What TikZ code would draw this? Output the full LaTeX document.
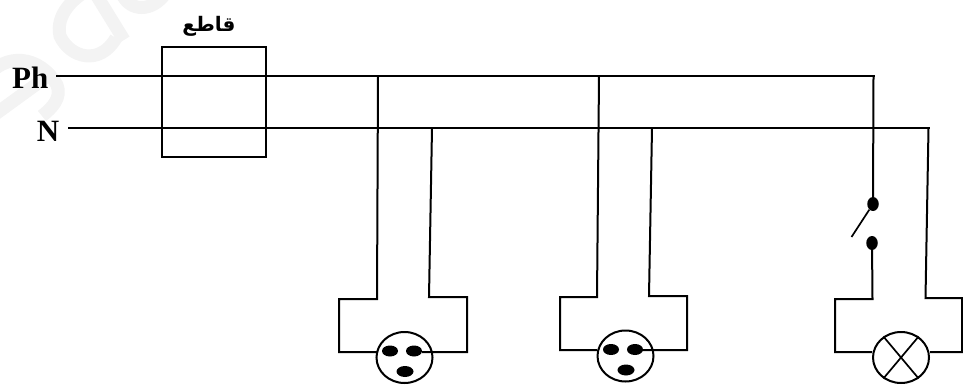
\documentclass[tikz,border=0pt]{standalone}
\usepackage{fontspec}
\setmainfont{Liberation Serif}
\newfontfamily\arabicfont[Script=Arabic]{DejaVu Sans}
\TeXXeTstate=1
\usetikzlibrary{shapes.geometric}
\definecolor{mark}{HTML}{F3F3F3}
\tikzset{
  wire/.style={line width=2pt,black},
  thinwire/.style={line width=1.7pt,black},
  pin/.style={fill=black,draw=none,ellipse,inner sep=0pt},
  round body/.style={ellipse,draw=black,line width=2pt,minimum width=56pt,minimum height=51pt,inner sep=0pt,fill=white},
  label text/.style={font=\bfseries\fontsize{31}{31}\selectfont,inner sep=0pt},
  faint/.style={draw=mark,line width=13pt}
}
\begin{document}
\begin{tikzpicture}[x=1pt,y=-1pt]
\useasboundingbox (0,0) rectangle (963,385);
% faint watermark
\draw[faint] (-14,78) .. controls (5,52) and (40,55) .. (57,85) .. controls (62,98) and (52,108) .. (42,116);
\draw[faint] (-10,118) -- (45,78);
\draw[faint] (116,38) .. controls (100,66) and (70,58) .. (60,36) .. controls (55,14) and (75,-4) .. (92,-12);
\draw[faint] (92,-12) -- (124,40);
\draw[faint] (122,-6) .. controls (130,12) and (152,12) .. (165,-6);
% breaker
\node[draw=black,line width=2pt,minimum width=104pt,minimum height=110pt,inner sep=0pt] (brk) at (214,102) {};
\node[font=\arabicfont\bfseries\fontsize{20}{20}\selectfont,inner sep=0pt] (brklabel) at (209,26) {\beginR قاطع\endR};
% labels and bus
\node[label text,anchor=base east] (ph) at (48.5,89) {Ph};
\node[label text,anchor=base east] (n) at (59.5,141) {N};
\coordinate (phS) at (56,76);
\coordinate (phE) at (875,76);
\coordinate (nS) at (68,128);
\coordinate (nE) at (930,128);
\draw[wire] (phS) -- (phE);
\draw[wire] (nS) -- (nE);
% socket 1
\node[round body] (s1) at (404.5,357.5) {};
\node[pin,minimum width=16pt,minimum height=11pt] (s1a) at (390,351) {};
\node[pin,minimum width=16pt,minimum height=11pt] (s1b) at (414,351) {};
\node[pin,minimum width=17pt,minimum height=11pt] (s1c) at (405,371.5) {};
\draw[wire,line join=miter] (378,76) -- (377,299) -- (339,299) -- (339,352) -- (378,352);
\draw[wire] (432,128) -- (429,297) -- (467,297) -- (467,352) -- (422,352);
% socket 2
\node[round body] (s2) at (625.5,356) {};
\node[pin,minimum width=16pt,minimum height=11pt] (s2a) at (611,349.5) {};
\node[pin,minimum width=16pt,minimum height=11pt] (s2b) at (635,349.5) {};
\node[pin,minimum width=17pt,minimum height=11pt] (s2c) at (626,370) {};
\draw[wire] (599,76) -- (597,297) -- (560,297) -- (560,350) -- (597,350);
\draw[wire] (652,128) -- (649,296) -- (687,296) -- (687,350) -- (642,350);
% lamp
\node[round body] (lamp) at (901,357.5) {};
\draw[thinwire] (lamp.50) -- (lamp.230) (lamp.130) -- (lamp.310);
\node[pin,minimum width=11.5pt,minimum height=14pt] (sw1) at (873,204) {};
\node[pin,minimum width=11.5pt,minimum height=14pt] (sw2) at (872,243) {};
\draw[wire] (873.5,76) -- (sw1);
\draw[thinwire] (sw1) -- (851.5,237);
\draw[wire] (sw2) -- (872.5,299) -- (835,299) -- (835,352) -- (lamp.west |- 0,352);
\draw[wire] (928.5,128) -- (925.5,298) -- (962,298) -- (962,352) -- (lamp.east |- 0,352);
\end{tikzpicture}
\end{document}
